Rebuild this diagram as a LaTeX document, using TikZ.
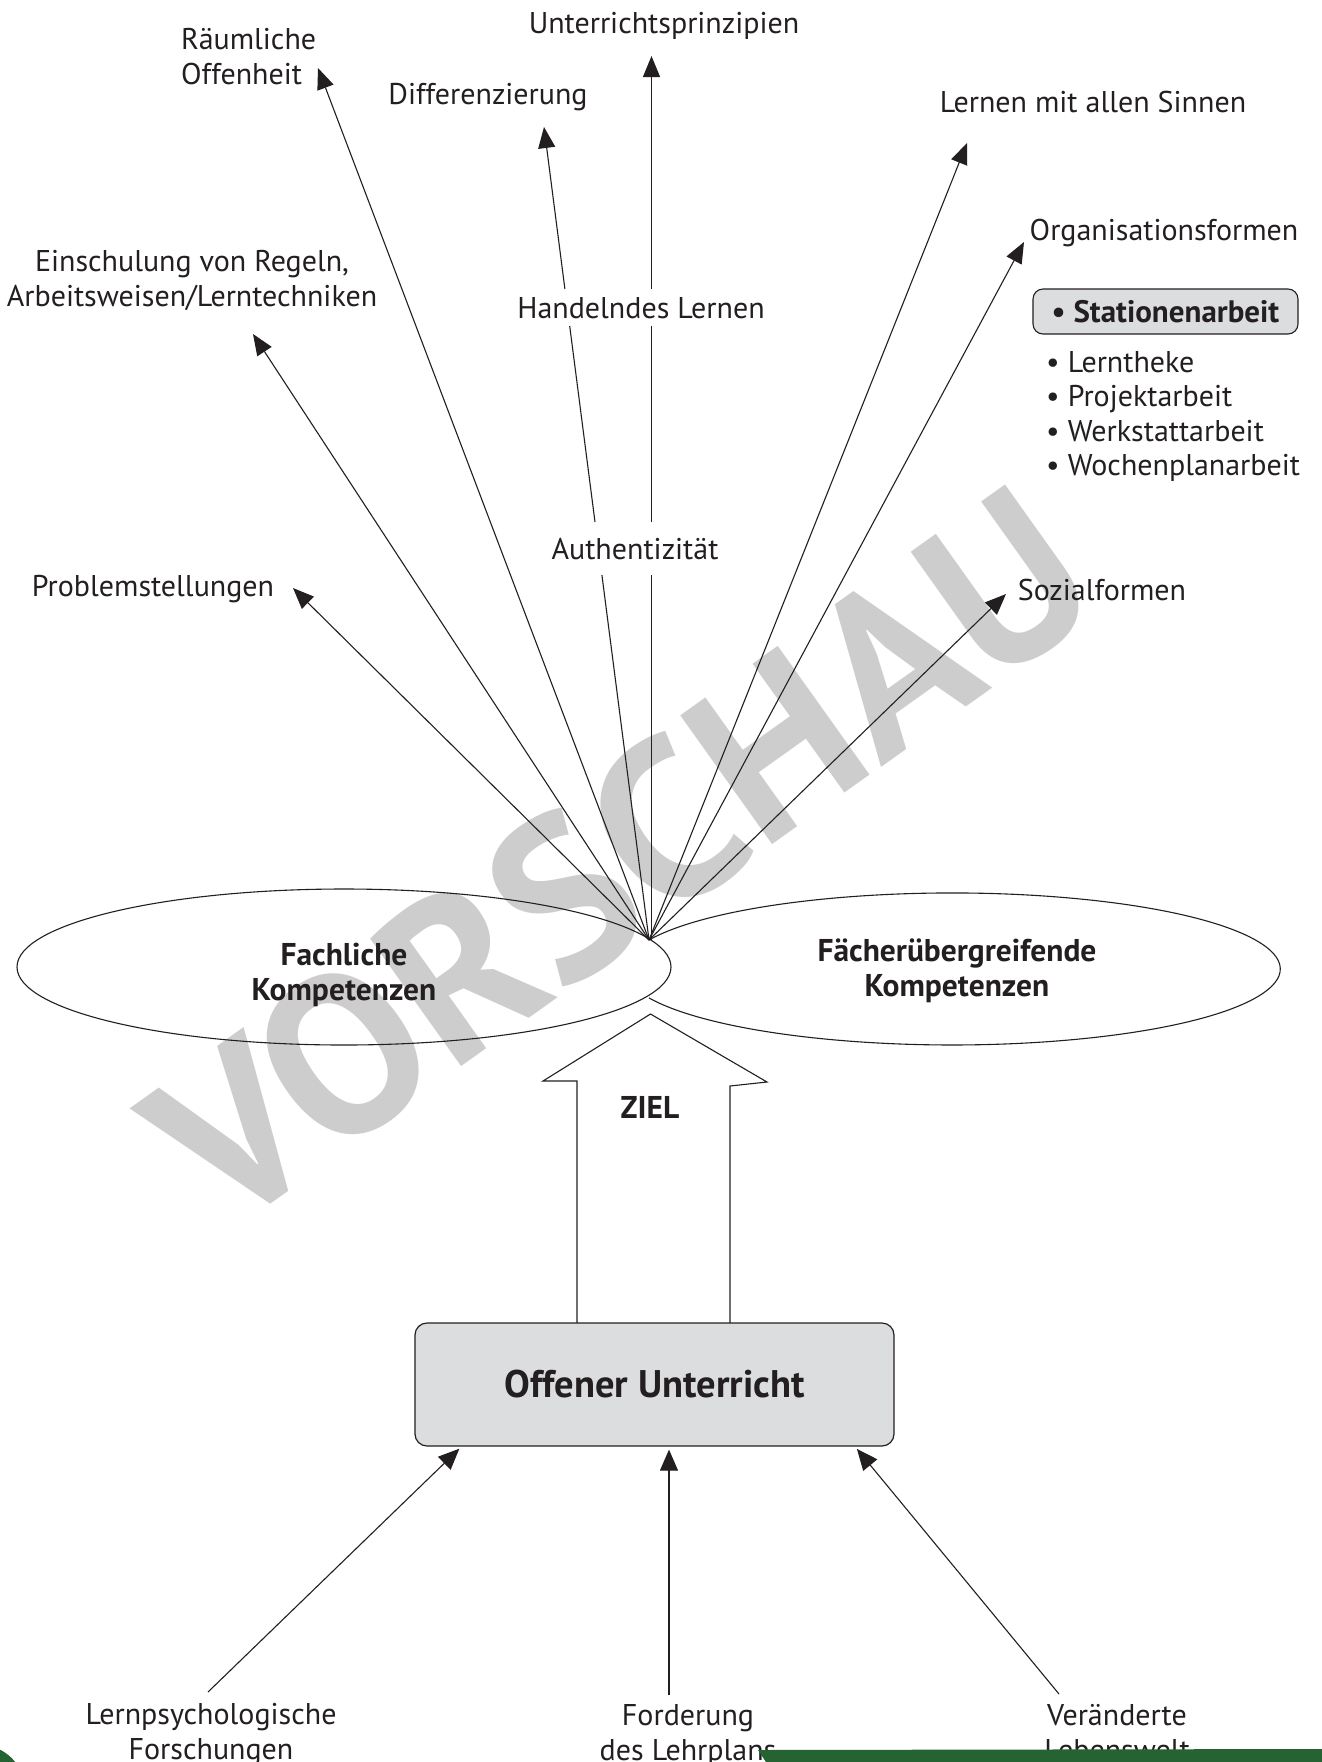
\documentclass[tikz,border=0pt]{standalone}
\usepackage{fontspec}
\setmainfont{PT Sans}
\usetikzlibrary{arrows.meta,shapes.geometric}
\definecolor{ink}{RGB}{35,31,32}
\definecolor{wmgray}{RGB}{205,205,205}
\definecolor{boxgray}{RGB}{220,221,223}
\definecolor{bargreen}{RGB}{38,99,50}
\begin{document}
\begin{tikzpicture}[x=1pt,y=-1pt,
  every node/.style={text=ink},
  lbl/.style={font=\fontsize{30}{35}\selectfont, inner sep=1pt},
  blbl/.style={font=\bfseries\fontsize{31.5}{35}\selectfont, align=center},
  fanline/.style={draw=ink, line width=1.1pt},
  fanarr/.style={fanline, -{Triangle[length=21pt,width=17pt]}},
  uparr/.style={draw=ink, line width=1.1pt, -{Triangle[length=21pt,width=18pt]}, shorten >=3pt},
  outline/.style={draw=ink, line width=1.1pt},
]
\useasboundingbox (0,0) rectangle (1322,1762);
\fill[white] (0,0) rectangle (1322,1762);

% watermark (behind everything)
\node[font=\bfseries\fontsize{226}{226}\selectfont, text=wmgray, rotate=35.5, inner sep=0pt] (wm) at (620,857) {VORSCHAU};

% ellipses
\coordinate (hub) at (649,940);
\draw[outline] (344,967) ellipse [x radius=327pt, y radius=78pt];
\draw[outline] (hub) arc [start angle=157.6, end angle=-157.6, x radius=328pt, y radius=76pt];
\node[blbl] (fach) at (344,975) {Fachliche\\Kompetenzen};
\node[blbl] (fue) at (957,971) {Fächerübergreifende\\Kompetenzen};

% fan
\coordinate (tRaum) at (318,68);
\coordinate (tDiff) at (544,127);
\coordinate (tSinn) at (967,143);
\coordinate (tOrg) at (1024,242);
\coordinate (tEin) at (253,334);
\coordinate (tProb) at (293,588);
\coordinate (tSoz) at (1006,594);
\foreach \t in {tRaum,tSinn,tOrg,tEin,tProb,tSoz}
  \draw[fanarr] (hub) -- (\t);

% the two arrows that pass behind "Authentizität" and "Handelndes Lernen"
\coordinate (hubV) at (651.5,940);
\coordinate (tUnt) at (651.5,56);
\coordinate (aU1) at (651.5,575);
\coordinate (aU2) at (651.5,522);
\coordinate (hU1) at (651.5,326);
\coordinate (hU2) at (651.5,289);
\draw[fanline] (hubV) -- (aU1);
\draw[fanline] (aU2) -- (hU1);
\draw[fanarr] (hU2) -- (tUnt);
\coordinate (aD1) at (601.9,575);
\coordinate (aD2) at (595.0,522);
\coordinate (hD1) at (569.7,326);
\coordinate (hD2) at (564.9,289);
\draw[fanline] (hub) -- (aD1);
\draw[fanline] (aD2) -- (hD1);
\draw[fanarr] (hD2) -- (tDiff);

% big arrow ZIEL
\draw[outline, fill=white] (577,1323) -- (577,1081) -- (543,1081) -- (650.5,1014) -- (767,1082) -- (730,1086) -- (730,1323);
\node[blbl] (ziel) at (650,1107) {ZIEL};

% box
\node[draw=ink, line width=1.2pt, fill=boxgray, rounded corners=12pt, minimum width=479pt, minimum height=123pt, inner sep=0pt, font=\bfseries\fontsize{38.5}{42}\selectfont] (box) at (654.5,1384.5) {Offener Unterricht};

% top labels
\node[lbl, anchor=base] (unt) at (664,33) {Unterrichtsprinzipien};
\node[lbl, anchor=west, align=left] (raum) at (180,57) {Räumliche\\Offenheit};
\node[lbl, anchor=base] (diff) at (488,104) {Differenzierung};
\node[lbl, anchor=base] (sinn) at (1093,112) {Lernen mit allen Sinnen};
\node[lbl, anchor=base] (org) at (1164,240) {Organisationsformen};
\node[lbl, align=center] (ein) at (192,280) {Einschulung von Regeln,\\Arbeitsweisen/Lerntechniken};
\node[lbl, anchor=base] (hand) at (641,318) {Handelndes Lernen};
\node[lbl, anchor=base] (auth) at (635,559) {Authentizität};
\node[lbl, anchor=base] (prob) at (153,596) {Problemstellungen};
\node[lbl, anchor=base] (soz) at (1102,600) {Sozialformen};

% Stationenarbeit and list
\node[draw=ink, line width=1.1pt, fill=boxgray, rounded corners=10pt, font=\bfseries\fontsize{31}{35}\selectfont, minimum width=265pt, minimum height=45pt, inner sep=0pt] (stat) at (1165.5,311.5) {• Stationenarbeit};
\node[lbl, anchor=base west, inner sep=0pt] (l1) at (1046,372) {• Lerntheke};
\node[lbl, anchor=base west, inner sep=0pt] (l2) at (1046,406.5) {• Projektarbeit};
\node[lbl, anchor=base west, inner sep=0pt] (l3) at (1046,441) {• Werkstattarbeit};
\node[lbl, anchor=base west, inner sep=0pt] (l4) at (1046,475.5) {• Wochenplanarbeit};

% bottom labels
\node[lbl, align=center] (lern) at (211,1735) {Lernpsychologische\\Forschungen};
\node[lbl, align=center] (ford) at (688,1735) {Forderung\\des Lehrplans};
\node[lbl, align=center] (welt) at (1117,1733) {Veränderte\\Lebenswelt};

% bottom arrows
\coordinate (sL) at (208,1692);
\coordinate (sM) at (669,1695);
\coordinate (sR) at (1059,1694);
\draw[uparr] (sL) -- ([xshift=-193pt]box.south);
\draw[uparr] (sM) -- ([xshift=14.5pt]box.south);
\draw[uparr] (sR) -- ([xshift=200.5pt]box.south);

% green page elements
\fill[bargreen] (758,1750) -- (1322,1749) -- (1322,1762) -- (766,1762) -- cycle;
\fill[bargreen] (-20,1790) circle (45pt);
\end{tikzpicture}
\end{document}
